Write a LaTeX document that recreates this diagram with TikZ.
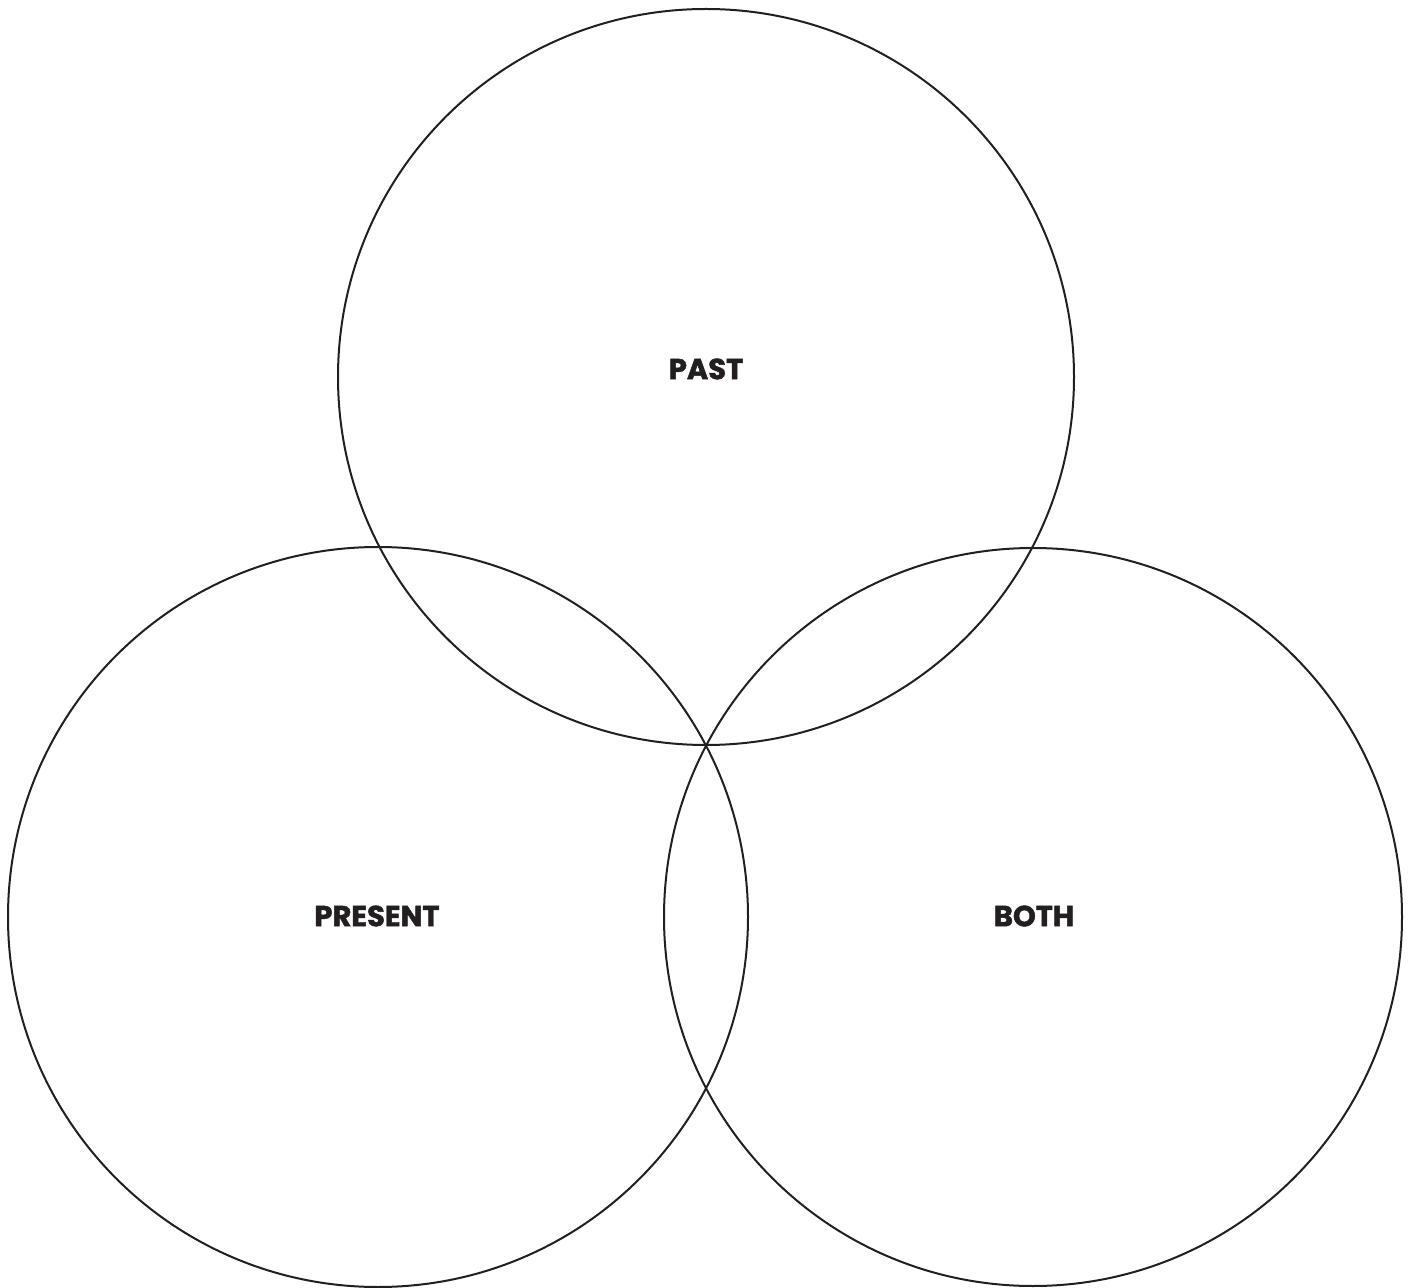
\documentclass[tikz,border=0pt]{standalone}
\usepackage{fontspec}
\setmainfont{Poppins}[BoldFeatures={FakeBold=1.6}]
\definecolor{ink}{HTML}{231F20}
\begin{document}
\begin{tikzpicture}[x=0.5pt,y=-0.5pt,
  ring/.style={draw=ink,line width=1pt,circle,inner sep=0pt},
  lbl/.style={text=ink,font=\fontsize{14.5}{16}\selectfont\bfseries}]
\useasboundingbox (0,0) rectangle (1414,1288);
\node[ring,minimum size=368pt] (past) at (706,377) {};
\node[ring,minimum size=370pt] (present) at (378,917) {};
\node[ring,minimum size=369pt] (both) at (1033,917) {};
\node[lbl] (tpast) at (706,369) {PAST};
\node[lbl] (tpresent) at (377,916) {PRESENT};
\node[lbl] (tboth) at (1034,916) {BOTH};
\end{tikzpicture}
\end{document}
